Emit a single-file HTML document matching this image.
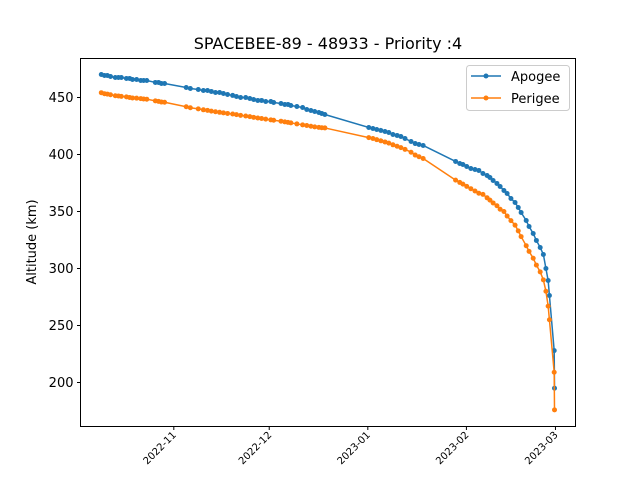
<!DOCTYPE html>
<html><head><meta charset="utf-8">
<style>
html,body{margin:0;padding:0;background:#fff;}
svg{display:block;font-family:"DejaVu Sans","Liberation Sans",sans-serif;}
</style></head>
<body>
<svg id="chart" width="640" height="480" viewBox="0 0 640 480">
<rect width="640" height="480" fill="#fff"/>
<text x="328" y="49" font-size="16" text-anchor="middle">SPACEBEE-89 - 48933 - Priority :4</text>
<g id="plot"></g>
<rect x="80.5" y="58.5" width="495" height="368" fill="none" stroke="#000" stroke-width="1"/>
<text transform="translate(36,242) rotate(-90)" font-size="13" text-anchor="middle">Altitude (km)</text>
<g>
<rect x="466.5" y="65.5" width="103" height="45" rx="3" fill="#fff" fill-opacity="0.8" stroke="#ccc"/>
<g>
<line x1="471" y1="76" x2="501" y2="76" stroke="#1f77b4" stroke-width="1.5"/><circle cx="486" cy="76" r="2.5" fill="#1f77b4"/>
<text x="511" y="81" font-size="13">Apogee</text></g>
<g>
<line x1="471" y1="98" x2="501" y2="98" stroke="#ff7f0e" stroke-width="1.5"/><circle cx="486" cy="98" r="2.5" fill="#ff7f0e"/>
<text x="511" y="103" font-size="13">Perigee</text></g>
</g>
</svg>
<script>
// days since 2022-10-01
const days = [8.2,9.2,10.1,11.1,12.6,13.6,14.5,16.1,17.1,18.0,19.3,20.6,21.5,22.5,25.2,26.2,27.1,28.1,34.9,36.2,38.7,40.3,41.6,42.8,44.1,45.4,46.6,47.9,49.5,50.7,52.0,53.6,54.9,56.1,57.4,58.6,59.9,61.5,62.4,64.7,65.9,66.9,67.8,69.7,71.5,72.8,74.1,75.3,76.6,77.5,78.5,92.3,93.6,94.8,96.1,97.4,98.6,99.9,101.2,102.4,103.7,105.6,106.9,108.1,109.4,119.6,120.9,121.9,123.1,124.4,125.7,126.9,128.2,129.5,130.4,131.4,132.6,133.6,134.8,135.8,137.0,138.3,139.3,140.2,141.8,142.7,144.0,145.0,146.2,147.2,148.0,148.7,149.1,150.6,150.7];
const apogee = [470.2,469.3,469.3,468.4,467.5,467.5,467.5,466.7,466.7,465.8,465.8,464.9,464.9,464.9,463.2,463.2,462.3,462.3,458.8,457.9,457.0,456.1,456.1,455.3,454.4,454.4,453.5,452.6,451.8,450.9,450.0,450.0,449.1,448.2,447.4,447.4,446.5,446.5,445.6,444.7,443.9,443.9,443.0,442.1,441.2,439.5,438.6,437.7,436.8,436.0,435.1,423.7,422.8,421.9,421.1,420.2,419.3,417.5,416.7,415.8,414.0,411.4,409.6,408.8,407.9,393.9,392.1,391.2,389.5,387.7,386.8,386.0,383.3,381.6,379.8,377.2,374.6,371.9,368.4,365.8,361.4,357.9,353.5,349.1,342.1,336.8,330.7,324.6,318.4,312.3,300.0,289.5,276.3,228.0,195.0];
const perigee = [454.2,453.3,453.0,452.4,451.5,451.3,451.0,450.5,450.0,449.6,449.4,449.0,448.7,448.5,447.0,446.6,446.0,445.8,441.9,441.0,440.0,439.2,438.7,438.0,437.5,437.0,436.5,436.0,435.5,435.0,434.3,433.8,433.2,432.6,432.0,431.6,431.0,430.4,430.0,429.2,428.6,428.2,427.7,426.8,426.0,425.4,424.8,424.2,423.8,423.5,423.3,414.8,414.0,413.0,412.0,411.0,410.0,408.5,407.2,406.0,404.5,402.0,399.5,398.0,396.5,377.5,375.5,374.0,372.0,370.0,368.0,366.0,365.0,362.0,360.0,357.5,355.0,352.0,350.0,346.0,342.0,338.0,333.0,328.0,320.0,315.0,309.0,303.0,297.0,290.0,280.0,267.0,255.0,209.0,176.0];
const xTickDays = [31,61,92,123,151];
const xTickLabels = ["2022-11","2022-12","2023-01","2023-02","2023-03"];
const yTicks = [200,250,300,350,400,450];

const X0=80.5,X1=575.5,Y0=426.5,Y1=58.5;
const dMin=1.66,dMax=157.3,vMin=161.4,vMax=484.2;
const xs=d=>X0+(d-dMin)/(dMax-dMin)*(X1-X0);
const ys=v=>Y0-(v-vMin)/(vMax-vMin)*(Y0-Y1);
const NS="http://www.w3.org/2000/svg";
const plot=document.getElementById('plot');
function mk(tag,attrs,parent){const e=document.createElementNS(NS,tag);for(const k in attrs)e.setAttribute(k,attrs[k]);parent.appendChild(e);return e;}

yTicks.forEach(v=>{
  const g=mk('g',{},plot);
  
  
  mk('line',{x1:X0-3.5,x2:X0,y1:ys(v),y2:ys(v),stroke:'#000'},g);
  const t=mk('text',{x:X0-7,y:ys(v)+4.5,'font-size':'13','text-anchor':'end'},g);
  t.textContent=v;
});
xTickDays.forEach((d,i)=>{
  const g=mk('g',{},plot);
  
  
  const x=xs(d);
  mk('line',{x1:x,x2:x,y1:Y0,y2:Y0+3.5,stroke:'#000'},g);
  const t=mk('text',{transform:`translate(${x+3},${Y0+9}) rotate(-45)`,'font-size':'10','text-anchor':'end'},g);
  t.textContent=xTickLabels[i];
});
function series(vals,color,name){
  const g=mk('g',{},plot);
  
  
  const pts=days.map((d,i)=>xs(d).toFixed(2)+','+ys(vals[i]).toFixed(2)).join(' ');
  const pl=mk('polyline',{points:pts,fill:'none',stroke:color,'stroke-width':'1.5','stroke-linejoin':'round'},g);
  
  
  days.forEach((d,i)=>{
    const c=mk('circle',{cx:xs(d),cy:ys(vals[i]),r:2.5,fill:color},g);
    
    
  });
}
series(apogee,'#1f77b4','apogee');
series(perigee,'#ff7f0e','perigee');
</script>
</body></html>
